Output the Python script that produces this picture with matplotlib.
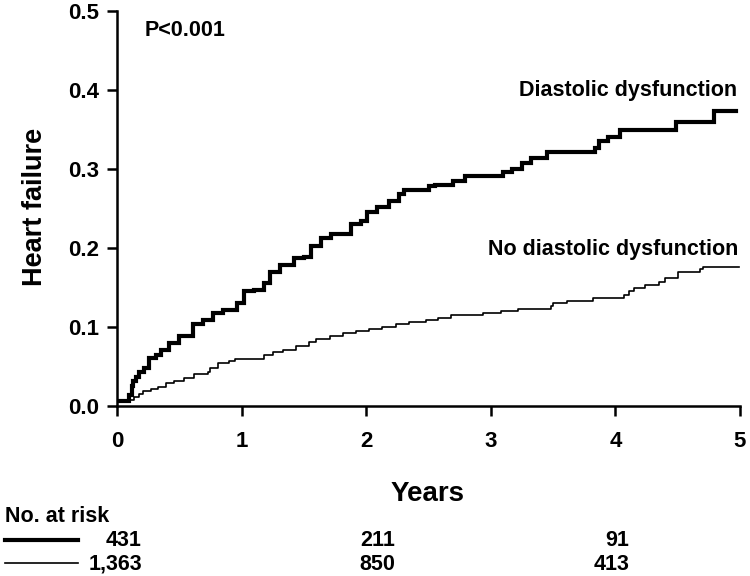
import numpy as np
import matplotlib
matplotlib.use("Agg")
import matplotlib.pyplot as plt
import matplotlib.transforms as mtransforms

plt.rcParams['font.family'] = ['Liberation Sans', 'DejaVu Sans']
plt.rcParams['font.weight'] = 'bold'

# cumulative incidence, diastolic dysfunction (thick line)
t_dd = [0, 0.10, 0.12, 0.13, 0.15, 0.18, 0.22, 0.26, 0.31, 0.35, 0.42, 0.50,
        0.61, 0.69, 0.77, 0.85, 0.96, 1.02, 1.10, 1.18, 1.23, 1.31, 1.42, 1.50,
        1.56, 1.64, 1.72, 1.88, 1.96, 2.01, 2.09, 2.18, 2.26, 2.30, 2.50, 2.55,
        2.70, 2.79, 3.10, 3.17, 3.25, 3.32, 3.45, 3.84, 3.87, 3.94, 4.04, 4.49,
        4.79, 4.97]
y_dd = [0.006, 0.014, 0.025, 0.032, 0.037, 0.043, 0.048, 0.061, 0.065, 0.071,
        0.080, 0.088, 0.104, 0.109, 0.118, 0.122, 0.131, 0.145, 0.147, 0.156,
        0.170, 0.178, 0.187, 0.189, 0.202, 0.213, 0.218, 0.230, 0.234, 0.245,
        0.252, 0.259, 0.268, 0.273, 0.278, 0.280, 0.285, 0.291, 0.296, 0.300,
        0.307, 0.314, 0.321, 0.326, 0.335, 0.341, 0.349, 0.360, 0.374, 0.374]

# no diastolic dysfunction (thin line)
t_nd = [0, 0.10, 0.14, 0.18, 0.21, 0.27, 0.33, 0.39, 0.46, 0.54, 0.62, 0.73,
        0.75, 0.81, 0.90, 0.95, 1.18, 1.25, 1.33, 1.44, 1.54, 1.60, 1.71, 1.81,
        1.92, 2.02, 2.13, 2.24, 2.34, 2.48, 2.58, 2.68, 2.94, 3.08, 3.22, 3.48,
        3.50, 3.61, 3.82, 4.07, 4.11, 4.15, 4.24, 4.35, 4.40, 4.50, 4.68, 4.70,
        4.99]
y_nd = [0.006, 0.008, 0.011, 0.015, 0.019, 0.021, 0.024, 0.029, 0.032, 0.036,
        0.041, 0.043, 0.048, 0.054, 0.057, 0.059, 0.064, 0.068, 0.071, 0.076,
        0.081, 0.085, 0.089, 0.092, 0.095, 0.097, 0.100, 0.104, 0.106, 0.109,
        0.111, 0.115, 0.118, 0.120, 0.123, 0.127, 0.130, 0.133, 0.137, 0.141,
        0.145, 0.149, 0.153, 0.157, 0.162, 0.170, 0.174, 0.176, 0.176]

risk_cols = [0.2, 2.23, 4.11]
risk_dd = ["431", "211", "91"]
risk_nd = ["1,363", "850", "413"]

fig = plt.figure(figsize=(7.5, 5.76), dpi=100)
ax = fig.add_axes([117/750, 1-406/576, 623/750, 395/576])

ax.step(t_dd, y_dd, where='post', color='black', lw=3.0, solid_joinstyle='miter')
ax.step(t_nd, y_nd, where='post', color='black', lw=1.2)

ax.set_xlim(0, 5)
ax.set_ylim(0, 0.5)
ax.set_xticks(range(6))
ax.set_yticks(np.arange(0, 0.51, 0.1))
ax.set_yticklabels(["%.1f" % v for v in np.arange(0, 0.51, 0.1)])
for s in ['top', 'right']:
    ax.spines[s].set_visible(False)
for s in ['left', 'bottom']:
    ax.spines[s].set_linewidth(1.8)
ax.tick_params(axis='both', width=1.8, length=7, labelsize=16)
ax.tick_params(axis='y', pad=6)
ax.tick_params(axis='x', pad=11)

ax.text(0.22, 0.475, "P<0.001", fontsize=15.5, va='center', ha='left')
ax.text(4.98, 0.399, "Diastolic dysfunction", fontsize=15.5, va='center', ha='right')
ax.text(4.99, 0.198, "No diastolic dysfunction", fontsize=15.5, va='center', ha='right')

fig.text(35/750, 1-207/576, "Heart failure", rotation=90, fontsize=19.5,
         ha='center', va='center')
fig.text(428/750, 1-494/576, "Years", fontsize=20, ha='center', va='center')

# number at risk table
fig.text(5/750, 1-517/576, "No. at risk", fontsize=15.5, ha='left', va='center')
fig.add_artist(plt.Line2D([5/750, 78/750], [1-540/576, 1-540/576], color='black', lw=3.0))
fig.add_artist(plt.Line2D([5/750, 78/750], [1-563/576, 1-563/576], color='black', lw=1.2))
trans = mtransforms.blended_transform_factory(ax.transData, fig.transFigure)
for x, a, b in zip(risk_cols, risk_dd, risk_nd):
    ax.text(x, 1-541/576, a, transform=trans, fontsize=15.5, ha='right', va='center')
    ax.text(x, 1-564/576, b, transform=trans, fontsize=15.5, ha='right', va='center')

fig.savefig("out.png", dpi=100)
